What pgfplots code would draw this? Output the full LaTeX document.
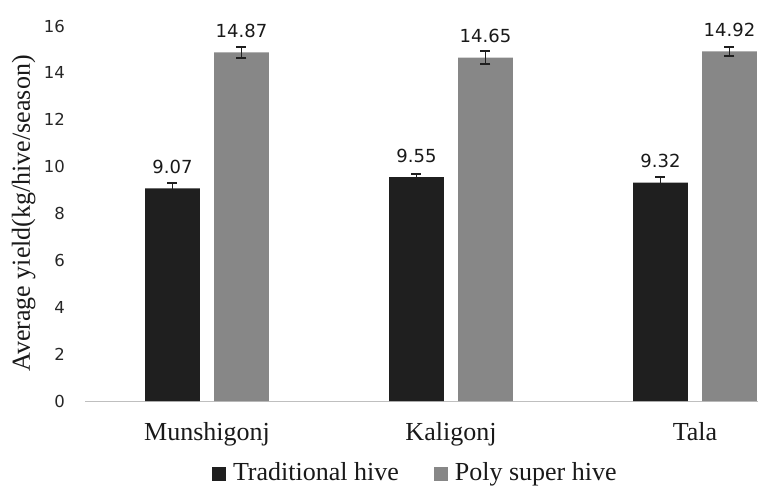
\documentclass[border=0pt]{standalone}
\usepackage{pgfplots}
\pgfplotsset{compat=1.18}
\usepackage{fontspec}
\setmainfont{Liberation Serif}
\newfontfamily\dejavu{DejaVu Sans}
\definecolor{darkbar}{HTML}{1F1F1F}
\definecolor{graybar}{HTML}{878787}
\definecolor{axisgray}{HTML}{BFBFBF}
\begin{document}
\begin{tikzpicture}
\useasboundingbox (0,0) rectangle (758pt,485pt);
\begin{axis}[
  at={(85pt,84pt)}, anchor=south west,
  scale only axis, width=673.4pt, height=375pt,
  xmin=-0.5, xmax=2.26, ymin=0, ymax=16,
  clip=false,
  ybar, bar width=0.225,
  axis x line*=bottom, axis y line*=left,
  x axis line style={-, color=axisgray, line width=1pt},
  y axis line style={draw=none},
  major tick length=0pt,
  xtick={0,1,2},
  xticklabels={Munshigonj,Kaligonj,Tala},
  ytick={0,2,...,16},
  /pgf/number format/assume math mode=true,
  yticklabel style={font=\dejavu\fontsize{16.5}{16.5}\selectfont, color=black!85, anchor=east, inner sep=0pt, xshift=-20pt},
  xticklabel style={font=\fontsize{26}{26}\selectfont, color=black!90, anchor=base, inner sep=0pt, yshift=-39pt},
  ylabel={Average yield(kg/hive/season)},
  ylabel style={font=\fontsize{26}{26}\selectfont, color=black!90, at={(axis description cs:-0.0817,0.5)}, anchor=base, inner sep=0pt},
  legend style={draw=none, fill=none, at={(axis description cs:0.1886,-0.1900)}, anchor=west,
    inner sep=0pt, outer sep=0pt, legend columns=2,
    font=\fontsize{26}{26}\selectfont,
    nodes={inner sep=0pt, text=black!90},
    cells={anchor=base},
    column sep=7pt,
    /tikz/every even column/.append style={column sep=35pt}},
  legend image code/.code={\fill[#1] (0pt,0pt) rectangle (14pt,14pt);},
  nodes near coords={\pgfmathprintnumber[fixed,fixed zerofill,precision=2]{\pgfplotspointmeta}},
  nodes near coords style={font=\dejavu\fontsize{18}{18}\selectfont, color=black!90, anchor=south, inner sep=0pt, yshift=14.5pt},
]
\addplot[bar shift=-0.1414, fill=darkbar, draw=none,
  error bars/.cd, y dir=both, y explicit,
  error bar style={line width=1.6pt, color=darkbar},
  error mark options={rotate=90, mark size=5pt, line width=2pt, color=darkbar}]
  coordinates {(0,9.07) +- (0,0.21) (1,9.55) +- (0,0.13) (2,9.32) +- (0,0.25)};
\addlegendentry{Traditional hive}
\addplot[bar shift=0.1414, fill=graybar, draw=none,
  error bars/.cd, y dir=both, y explicit,
  error bar style={line width=1.6pt, color=darkbar},
  error mark options={rotate=90, mark size=5pt, line width=2pt, color=darkbar}]
  coordinates {(0,14.87) +- (0,0.22) (1,14.65) +- (0,0.29) (2,14.92) +- (0,0.18)};
\addlegendentry{Poly super hive}
\end{axis}
\end{tikzpicture}
\end{document}
